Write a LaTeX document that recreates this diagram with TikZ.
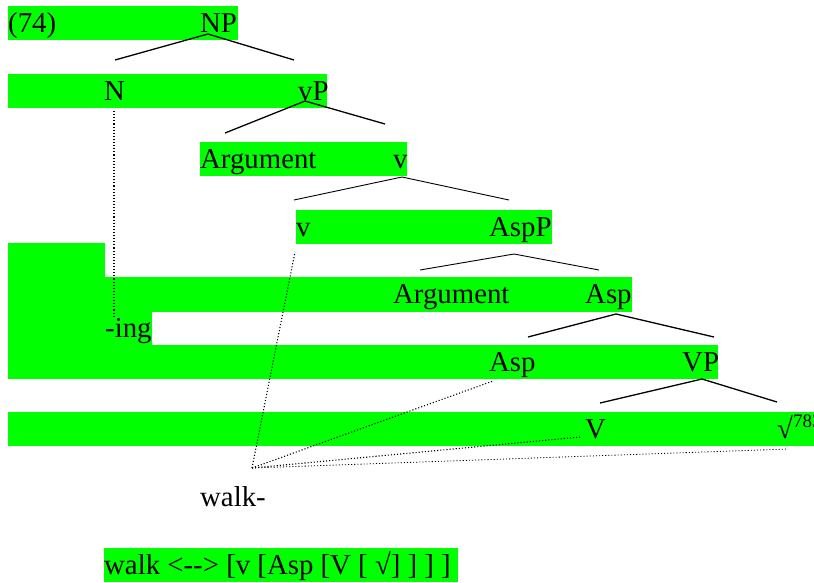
\documentclass[tikz,border=0pt]{standalone}
\usepackage{fontspec}
\setmainfont[Ligatures=NoCommon]{Liberation Serif}
\begin{document}
\begin{tikzpicture}[x=1pt,y=-1pt,
  hl/.style={fill=green1,draw=none},
  lbl/.style={inner sep=0pt,anchor=base west,font=\fontsize{28.8}{34}\selectfont},
  sup/.style={inner sep=0pt,anchor=base west,font=\fontsize{19}{22}\selectfont},
  branch/.style={draw=black,line width=1.3pt},
  thinbranch/.style={draw=black,line width=0.9pt},
  assoc/.style={draw=black,line width=1.1pt,dotted}]
\definecolor{green1}{RGB}{0,255,0}
\useasboundingbox (0,0) rectangle (814,582);
% highlight backgrounds
\fill[hl] (8,6) rectangle (238,40);
\fill[hl] (8,74) rectangle (327,108);
\fill[hl] (200,142) rectangle (407,176);
\fill[hl] (296,210) rectangle (552,244);
\fill[hl] (8,243) rectangle (105,278);
\fill[hl] (8,277) rectangle (632,312);
\fill[hl] (8,311) rectangle (152,346);
\fill[hl] (8,345) rectangle (718,379);
\fill[hl] (8,412) rectangle (814,446);
\fill[hl] (104,548) rectangle (458,582);
% labels
\node[lbl] (ex) at (8,32.5) {(74)};
\node[lbl] (NP) at (200,32.5) {NP};
\node[lbl] (N) at (104,100.5) {N};
\node[lbl] (vP) at (298,100.5) {vP};
\node[lbl] (arg1) at (200,168.5) {Argument};
\node[lbl] (vbar) at (393,168.5) {v};
\node[lbl] (v) at (296,236.5) {v};
\node[lbl] (AspP) at (489,236.5) {AspP};
\node[lbl] (arg2) at (393,303.5) {Argument};
\node[lbl] (Aspbar) at (585,303.5) {Asp};
\node[lbl] (ing) at (105,337.5) {-ing};
\node[lbl] (Asp) at (489,371.5) {Asp};
\node[lbl] (VP) at (682,371.5) {VP};
\node[lbl] (V) at (585,438.5) {V};
\node[lbl] (root) at (777,438.5) {√};
\node[sup] (fn) at (793,427) {783};
\node[lbl] (walk) at (200,506.5) {walk-};
\node[lbl] (formula) at (104,574.5) {walk <{-}{-}> [v [Asp [V [ √] ] ] ]};
% tree branch points
\coordinate (np-top) at (208,34);
\coordinate (np-l) at (115,60);
\coordinate (np-r) at (294,60);
\coordinate (vp-top) at (305,101);
\coordinate (vp-l) at (225,133);
\coordinate (vp-r) at (385,124);
\coordinate (vb-top) at (402,177);
\coordinate (vb-l) at (294,200);
\coordinate (vb-r) at (509,200);
\coordinate (aspp-top) at (514,254);
\coordinate (aspp-l) at (420,270);
\coordinate (aspp-r) at (599,270);
\coordinate (ab-top) at (616,314);
\coordinate (ab-l) at (528,337);
\coordinate (ab-r) at (714,337);
\coordinate (vpp-top) at (702,379);
\coordinate (vpp-l) at (600,403);
\coordinate (vpp-r) at (777,402);
\draw[branch] (np-l) -- (np-top) -- (np-r);
\draw[branch] (vp-l) -- (vp-top) -- (vp-r);
\draw[thinbranch] (vb-l) -- (vb-top) -- (vb-r);
\draw[thinbranch] (aspp-l) -- (aspp-top) -- (aspp-r);
\draw[branch] (ab-l) -- (ab-top) -- (ab-r);
\draw[branch] (vpp-l) -- (vpp-top) -- (vpp-r);
% association lines
\coordinate (n-bot) at (114,111);
\coordinate (ing-top) at (114,318);
\coordinate (walk-pt) at (252,468);
\coordinate (v-pt) at (295,252);
\coordinate (asp-pt) at (493,381);
\coordinate (V-pt) at (580,437);
\coordinate (root-pt) at (788,449);
\draw[assoc] (n-bot) -- (ing-top);
\draw[assoc] (walk-pt) -- (v-pt);
\draw[assoc] (walk-pt) -- (asp-pt);
\draw[assoc] (walk-pt) -- (V-pt);
\draw[assoc,line width=0.8pt] (walk-pt) -- (root-pt);
\end{tikzpicture}
\end{document}
